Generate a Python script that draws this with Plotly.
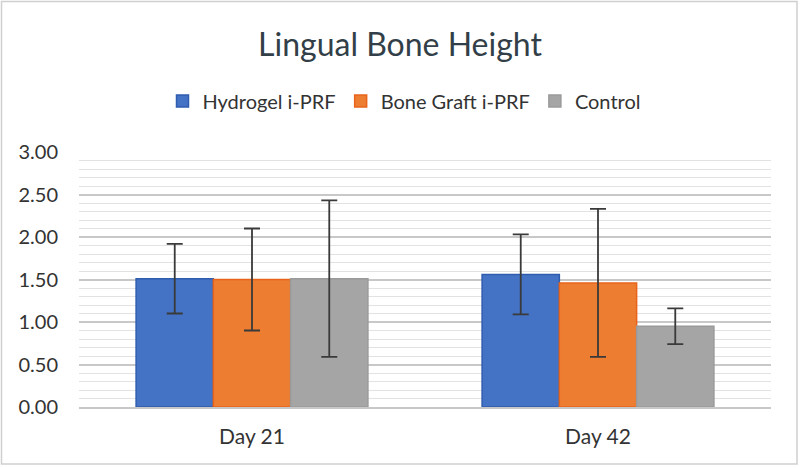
import plotly.graph_objects as go

days = ["Day 21", "Day 42"]
groups = ["Hydrogel i-PRF", "Bone Graft i-PRF", "Control"]
hydrogel = [1.51, 1.56]
hydrogel_sd = [0.41, 0.47]
bone_graft = [1.50, 1.46]
bone_graft_sd = [0.60, 0.87]
control = [1.51, 0.95]
control_sd = [0.92, 0.21]

colors = ["#4472C4", "#ED7D31", "#A5A5A5"]
edges = ["#2F5CAE", "#E8641B", "#9A9A9A"]

W, H = 800, 468
ml, mr, mt, mb = 79, 29, 152, 61

fig = go.Figure()
for name, vals, sd, c, e in zip(groups, [hydrogel, bone_graft, control],
                                 [hydrogel_sd, bone_graft_sd, control_sd], colors, edges):
    fig.add_trace(go.Bar(
        x=days, y=vals, name=name,
        marker=dict(color=c, line=dict(color=e, width=1.5)),
        error_y=dict(type="data", array=sd, visible=True,
                     color="#3a3a3a", thickness=1.8, width=8),
    ))

pw, ph = W - ml - mr, H - mt - mb
# thin frame round the whole chart
fig.add_shape(type="rect", xref="paper", yref="paper",
              x0=-(ml - 1.5) / pw, x1=1 + (mr - 3) / pw,
              y0=-(mb - 4) / ph, y1=1 + (mt - 1.5) / ph,
              line=dict(color="#cfcfcf", width=1.5), layer="below")

fig.update_layout(
    width=W, height=H,
    margin=dict(l=ml, r=mr, t=mt, b=mb),
    paper_bgcolor="white", plot_bgcolor="white",
    font=dict(family="Lato, sans-serif", color="#404040"),
    title=dict(text="Lingual Bone Height", x=0.5, xanchor="center",
               y=1 - 45 / H, yanchor="middle",
               font=dict(size=32, color="#333f48")),
    barmode="group", bargap=0.33, bargroupgap=0,
    showlegend=True,
    legend=dict(orientation="h", x=(404 - ml) / pw, xanchor="center",
                y=(407 - 101) / ph, yanchor="middle",
                font=dict(size=20, color="#333333"), itemwidth=30,
                traceorder="normal"),
    xaxis=dict(showgrid=False, tickfont=dict(size=21, color="#333333"),
               showline=True, linecolor="#c8c8c8", linewidth=2, ticks="",
               ticklabelstandoff=10),
    yaxis=dict(range=[0, 3], dtick=0.5, tickformat=".2f",
               tickfont=dict(size=20, color="#333333"),
               showgrid=True, gridcolor="#c8c8c8", gridwidth=1.8,
               minor=dict(dtick=0.1, showgrid=True, gridcolor="#e2e2e2", gridwidth=1.3),
               zeroline=False, ticks="", ticklabelstandoff=20),
)

fig.write_html("out.html", config={"displayModeBar": False},
               post_script="document.body.style.margin='0';")
